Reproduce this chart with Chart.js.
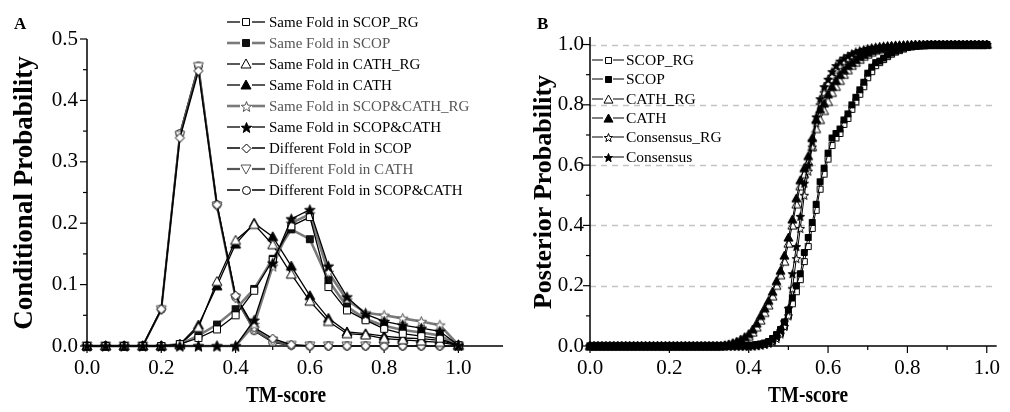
<!DOCTYPE html>
<html><head><meta charset="utf-8">
<script src="https://cdn.jsdelivr.net/npm/chart.js@4.4.0/dist/chart.umd.min.js"></script>
<style>
html,body{margin:0;padding:0;background:#fff;width:1010px;height:412px;overflow:hidden;}
canvas{position:absolute;top:0;}
#cA{left:0;} #cB{left:520px;}
</style></head><body>
<canvas id="cA" width="520" height="412"></canvas>
<canvas id="cB" width="490" height="412"></canvas>
<script>
// ---------- Panel A data ----------
const tmA = [0,0.05,0.1,0.15,0.2,0.25,0.3,0.35,0.4,0.45,0.5,0.55,0.6,0.65,0.7,0.75,0.8,0.85,0.9,0.95,1.0];
const sameScopRG   = [0,0,0,0,0,0.003,0.013,0.027,0.05,0.09,0.14,0.195,0.21,0.096,0.058,0.042,0.028,0.02,0.016,0.012,0.001];
const sameScop     = [0,0,0,0,0,0.003,0.017,0.035,0.06,0.093,0.142,0.19,0.174,0.107,0.064,0.044,0.033,0.026,0.022,0.017,0.001];
const sameCathRG   = [0,0,0,0,0,0.002,0.03,0.105,0.172,0.198,0.165,0.117,0.073,0.04,0.02,0.018,0.012,0.01,0.008,0.006,0.001];
const sameCath     = [0,0,0,0,0,0.003,0.034,0.098,0.166,0.2,0.178,0.13,0.082,0.045,0.023,0.02,0.016,0.013,0.012,0.009,0.001];
const sameBothRG   = [0,0,0,0,0,0,0,0,0,0.035,0.13,0.2,0.215,0.12,0.075,0.054,0.05,0.045,0.04,0.034,0.002];
const sameBoth     = [0,0,0,0,0,0,0,0,0,0.042,0.135,0.207,0.222,0.13,0.08,0.052,0.04,0.034,0.029,0.024,0.001];
const diffScop     = [0,0,0,0,0.06,0.339,0.448,0.23,0.082,0.03,0.012,0.002,0,0,0,0,0,0,0,0,0];
const diffCath     = [0,0,0,0,0.059,0.343,0.455,0.228,0.078,0.026,0.008,0.001,0,0,0,0,0,0,0,0,0];
const diffBoth     = [0,0,0,0,0.06,0.346,0.456,0.23,0.08,0.025,0.006,0.001,0,0,0,0,0,0,0,0,0];
const labelsA = ['Same Fold in SCOP_RG','Same Fold in SCOP','Same Fold in CATH_RG','Same Fold in CATH',
  'Same Fold in SCOP&CATH_RG','Same Fold in SCOP&CATH','Different Fold in SCOP','Different Fold in CATH','Different Fold in SCOP&CATH'];

// ---------- Panel B data ----------
const tmB = [0,0.01,0.02,0.03,0.04,0.05,0.06,0.07,0.08,0.09,
 0.1,0.11,0.12,0.13,0.14,0.15,0.16,0.17,0.18,0.19,
 0.2,0.21,0.22,0.23,0.24,0.25,0.26,0.27,0.28,0.29,
 0.3,0.31,0.32,0.33,0.34,0.35,0.36,0.37,0.38,0.39,
 0.4,0.41,0.42,0.43,0.44,0.45,0.46,0.47,0.48,0.49,
 0.5,0.51,0.52,0.53,0.54,0.55,0.56,0.57,0.58,0.59,
 0.6,0.61,0.62,0.63,0.64,0.65,0.66,0.67,0.68,0.69,
 0.7,0.71,0.72,0.73,0.74,0.75,0.76,0.77,0.78,0.79,
 0.8,0.81,0.82,0.83,0.84,0.85,0.86,0.87,0.88,0.89,
 0.9,0.91,0.92,0.93,0.94,0.95,0.96,0.97,0.98,0.99,1.0];
const postScopRG = [0,0,0,0,0,0,0,0,0,0, 0,0,0,0,0,0,0,0,0,0, 0,0,0,0,0,0,0,0,0,0,
 0,0,0,0,0,0,0.001,0.001,0.001,0.001,
 0.002,0.002,0.003,0.005,0.006,0.01,0.017,0.028,0.042,0.065,
 0.1,0.14,0.18,0.22,0.28,0.33,0.39,0.45,0.52,0.57,
 0.62,0.665,0.69,0.705,0.735,0.755,0.785,0.81,0.835,0.86,
 0.89,0.91,0.93,0.94,0.95,0.96,0.968,0.975,0.98,0.985,
 0.99,0.992,0.994,0.996,0.997,0.998,0.999,0.999,1,1,
 1,1,1,1,1,1,1,1,1,1,1];
const postScop = [0,0,0,0,0,0,0,0,0,0, 0,0,0,0,0,0,0,0,0,0, 0,0,0,0,0,0,0,0,0,0,
 0,0,0,0,0,0.001,0.001,0.001,0.001,0.002,
 0.002,0.003,0.005,0.007,0.01,0.015,0.025,0.038,0.055,0.08,
 0.12,0.16,0.2,0.24,0.31,0.36,0.41,0.47,0.545,0.59,
 0.64,0.69,0.705,0.72,0.75,0.77,0.8,0.825,0.85,0.875,
 0.905,0.925,0.94,0.945,0.955,0.965,0.972,0.978,0.984,0.988,
 0.992,0.994,0.996,0.997,0.998,0.999,0.999,0.999,1,1,
 1,1,1,1,1,1,1,1,1,1,1];
const postCathRG = [0,0,0,0,0,0,0,0,0,0, 0,0,0,0,0,0,0,0,0,0, 0,0,0,0,0,0,0,0,0,0,
 0,0,0,0,0.002,0.004,0.007,0.011,0.016,0.023,
 0.032,0.045,0.062,0.085,0.11,0.135,0.165,0.2,0.235,0.28,
 0.34,0.4,0.47,0.53,0.57,0.61,0.66,0.72,0.75,0.78,
 0.81,0.84,0.86,0.88,0.9,0.915,0.93,0.94,0.95,0.96,
 0.967,0.974,0.98,0.984,0.987,0.99,0.992,0.994,0.995,0.996,
 0.997,0.998,0.998,0.999,0.999,1,1,1,1,1,
 1,1,1,1,1,1,1,1,1,1,1];
const postCath = [0,0,0,0,0,0,0,0,0,0, 0,0,0,0,0,0,0,0,0,0, 0,0,0,0,0,0,0,0,0,0,
 0,0,0,0,0.003,0.006,0.01,0.015,0.022,0.03,
 0.04,0.055,0.075,0.1,0.125,0.15,0.18,0.215,0.25,0.3,
 0.36,0.42,0.49,0.55,0.59,0.63,0.69,0.75,0.785,0.805,
 0.835,0.86,0.88,0.9,0.915,0.93,0.94,0.95,0.96,0.967,
 0.974,0.98,0.984,0.988,0.99,0.992,0.994,0.995,0.996,0.997,
 0.998,0.998,0.999,0.999,0.999,1,1,1,1,1,
 1,1,1,1,1,1,1,1,1,1,1];
const postConsRG = [0,0,0,0,0,0,0,0,0,0, 0,0,0,0,0,0,0,0,0,0, 0,0,0,0,0,0,0,0,0,0,
 0,0,0,0,0,0,0,0,0,0,
 0,0,0.001,0.003,0.005,0.009,0.015,0.025,0.04,0.065,
 0.1,0.19,0.29,0.39,0.5,0.58,0.66,0.74,0.8,0.84,
 0.87,0.895,0.915,0.93,0.943,0.953,0.962,0.97,0.976,0.98,
 0.984,0.987,0.99,0.992,0.994,0.995,0.996,0.997,0.998,0.998,
 0.999,0.999,1,1,1,1,1,1,1,1,
 1,1,1,1,1,1,1,1,1,1,1];
const postCons = [0,0,0,0,0,0,0,0,0,0, 0,0,0,0,0,0,0,0,0,0, 0,0,0,0,0,0,0,0,0,0,
 0,0,0,0,0,0,0,0,0,0,
 0,0.001,0.002,0.004,0.007,0.012,0.02,0.032,0.05,0.08,
 0.125,0.24,0.33,0.43,0.54,0.6,0.68,0.76,0.82,0.86,
 0.885,0.91,0.93,0.945,0.955,0.963,0.97,0.976,0.98,0.984,
 0.987,0.99,0.992,0.994,0.995,0.996,0.997,0.998,0.998,0.999,
 0.999,1,1,1,1,1,1,1,1,1,
 1,1,1,1,1,1,1,1,1,1,1];
const labelsB = ['SCOP_RG','SCOP','CATH_RG','CATH','Consensus_RG','Consensus'];

// ---------- marker images ----------
function marker(shape, size, fill, stroke, lw) {
  const pad = 2, S = Math.ceil(size + pad * 2);
  const c = document.createElement('canvas');
  c.width = S; c.height = S;
  const g = c.getContext('2d');
  const cx = S / 2, cy = S / 2, r = size / 2;
  g.beginPath();
  if (shape === 'square') {
    g.rect(cx - r + 0.5, cy - r + 0.5, 2 * r - 1, 2 * r - 1);
  } else if (shape === 'tri') {
    g.moveTo(cx, cy - r); g.lineTo(cx + r, cy + r * 0.8); g.lineTo(cx - r, cy + r * 0.8);
  } else if (shape === 'dtri') {
    g.moveTo(cx, cy + r); g.lineTo(cx + r, cy - r * 0.8); g.lineTo(cx - r, cy - r * 0.8);
  } else if (shape === 'diamond') {
    g.moveTo(cx, cy - r); g.lineTo(cx + r, cy); g.lineTo(cx, cy + r); g.lineTo(cx - r, cy);
  } else if (shape === 'circle') {
    g.arc(cx, cy, r - 0.5, 0, Math.PI * 2);
  } else if (shape === 'star') {
    for (let k = 0; k < 10; k++) {
      const rr = k % 2 === 0 ? r : r * 0.42;
      const a = -Math.PI / 2 + k * Math.PI / 5;
      const px = cx + rr * Math.cos(a), py = cy + 0.5 + rr * Math.sin(a);
      if (k === 0) g.moveTo(px, py); else g.lineTo(px, py);
    }
  }
  g.closePath();
  g.fillStyle = fill; g.fill();
  g.lineWidth = lw; g.strokeStyle = stroke; g.stroke();
  return c;
}

const GRAY = '#7a7a7a';
const stylesA = [
  {m: marker('square', 8, '#fff', '#000', 1), c: '#000', w: 1.3, o: 1},
  {m: marker('square', 8, '#111', '#111', 1), c: GRAY, w: 2.6, o: 1},
  {m: marker('tri', 10, '#fff', '#000', 1), c: '#000', w: 1.3, o: 1},
  {m: marker('tri', 10, '#000', '#000', 1), c: '#000', w: 1.3, o: 1},
  {m: marker('star', 11, '#fff', '#555', 1), c: GRAY, w: 2.6, o: 1},
  {m: marker('star', 11, '#000', '#000', 1), c: '#000', w: 1.3, o: 0},
  {m: marker('diamond', 9, '#fff', '#000', 1), c: '#000', w: 1.5, o: 1},
  {m: marker('dtri', 10, '#fff', '#555', 1), c: '#555', w: 2.2, o: 1},
  {m: marker('circle', 9, '#fff', '#000', 1), c: '#000', w: 1.5, o: 1}
];
const textColA = ['#000', '#555', '#000', '#000', '#555', '#000', '#000', '#555', '#000'];
const stylesB = [
  {m: marker('square', 7, '#fff', '#000', 1), c: '#000', w: 1, o: 2},
  {m: marker('square', 7, '#000', '#000', 1), c: '#000', w: 1, o: 0},
  {m: marker('tri', 9, '#fff', '#000', 1), c: '#000', w: 1, o: 2},
  {m: marker('tri', 9, '#000', '#000', 1), c: '#000', w: 1, o: 0},
  {m: marker('star', 9, '#fff', '#000', 1), c: '#000', w: 1, o: 1},
  {m: marker('star', 9, '#000', '#000', 1), c: '#000', w: 1, o: 0}
];

const SERIF = "'Liberation Serif','Times New Roman',serif";

// ---------- decoration plugin: axes, ticks, grid, legend, titles ----------
const deco = {
  id: 'deco',
  beforeDatasetsDraw(chart) {
    const o = chart.options.plugins.deco;
    const ctx = chart.ctx, xs = chart.scales.x, ys = chart.scales.y, a = chart.chartArea;
    ctx.save();
    if (o.grid) {
      ctx.strokeStyle = '#c4c4c4'; ctx.lineWidth = 1.5; ctx.setLineDash([6, 5]);
      o.grid.forEach(v => {
        const y = Math.round(ys.getPixelForValue(v)) + 0.5;
        ctx.beginPath(); ctx.moveTo(a.left, y); ctx.lineTo(a.right, y); ctx.stroke();
      });
      ctx.setLineDash([]);
    }
    ctx.strokeStyle = '#000'; ctx.lineWidth = 1.5;
    const bx = a.left, by = a.bottom;
    ctx.beginPath(); ctx.moveTo(bx, a.top); ctx.lineTo(bx, by); ctx.lineTo(a.right, by); ctx.stroke();
    ctx.lineWidth = 1.2;
    const tick = (vals, len, axis) => vals.forEach(v => {
      ctx.beginPath();
      if (axis === 'x') { const x = xs.getPixelForValue(v); ctx.moveTo(x, by); ctx.lineTo(x, by + len); }
      else { const y = ys.getPixelForValue(v); ctx.moveTo(bx, y); ctx.lineTo(bx - len, y); }
      ctx.stroke();
    });
    tick(o.xMajor, 7, 'x'); tick(o.xMinor, 4, 'x');
    tick(o.yMajor, 7, 'y'); tick(o.yMinor, 4, 'y');
    ctx.restore();
  },
  afterDatasetsDraw(chart) {
    const o = chart.options.plugins.deco;
    const ctx = chart.ctx;
    ctx.save();
    const L = o.legend;
    chart.data.datasets.forEach((ds, i) => {
      const y = L.ys[i];
      const st = o.styles[i];
      ctx.strokeStyle = st.c; ctx.lineWidth = st.w;
      ctx.beginPath(); ctx.moveTo(L.l1[0], y); ctx.lineTo(L.l1[1], y); ctx.stroke();
      ctx.beginPath(); ctx.moveTo(L.l2[0], y); ctx.lineTo(L.l2[1], y); ctx.stroke();
      ctx.drawImage(st.m, Math.round(L.mx - st.m.width / 2), Math.round(y - st.m.height / 2));
      ctx.fillStyle = (o.textCols && o.textCols[i]) || '#000';
      ctx.font = L.font; ctx.textAlign = 'left'; ctx.textBaseline = 'middle';
      ctx.fillText(ds.label, L.tx, y + 1);
    });
    ctx.fillStyle = '#000';
    ctx.font = 'bold ' + o.yTitle.size + 'px ' + SERIF; ctx.textAlign = 'center'; ctx.textBaseline = 'middle';
    ctx.save(); ctx.translate(o.yTitle.x, o.yTitle.y); ctx.rotate(-Math.PI / 2);
    ctx.fillText(o.yTitle.text, 0, 0); ctx.restore();
    ctx.font = 'bold 23px ' + SERIF;
    ctx.save(); ctx.translate(o.xTitle.x, o.xTitle.y); ctx.scale(0.84, 1);
    ctx.fillText('TM-score', 0, 0); ctx.restore();
    ctx.font = 'bold 17px ' + SERIF; ctx.textAlign = 'left';
    ctx.fillText(o.panel.text, o.panel.x, o.panel.y);
    ctx.restore();
  }
};

function lineDatasets(labels, xs, series, styles, radius) {
  return series.map((s, i) => ({
    label: labels[i],
    data: xs.map((x, j) => ({x: x, y: s[j]})),
    borderColor: styles[i].c,
    borderWidth: styles[i].w,
    pointStyle: styles[i].m,
    pointRadius: radius,
    pointHoverRadius: radius,
    fill: false,
    tension: 0,
    clip: 10,
    order: styles[i].o !== undefined ? styles[i].o : 0
  }));
}

const fmt = v => (Math.round(v * 10) / 10).toFixed(1);
const tickFont = {family: SERIF, size: 21};
const noGrid = {display: false, drawTicks: false, tickLength: 0};

// ---------- Chart A ----------
new Chart(document.getElementById('cA'), {
  type: 'line',
  data: {datasets: lineDatasets(labelsA, tmA,
    [sameScopRG, sameScop, sameCathRG, sameCath, sameBothRG, sameBoth, diffScop, diffCath, diffBoth], stylesA, 4)},
  options: {
    responsive: false, animation: false, events: [],
    layout: {padding: {left: 0, top: 39, right: 17, bottom: 0}},
    scales: {
      x: {type: 'linear', min: 0, max: 1.12,
        grid: noGrid, border: {display: false},
        ticks: {stepSize: 0.2, includeBounds: false, callback: fmt, font: tickFont, color: '#000', padding: 10, maxRotation: 0},
        afterFit(s) { s.height = 66; }},
      y: {type: 'linear', min: 0, max: 0.5,
        grid: noGrid, border: {display: false},
        ticks: {stepSize: 0.1, callback: fmt, font: tickFont, color: '#000', padding: 9},
        afterFit(s) { s.width = 87; }}
    },
    plugins: {
      legend: {display: false}, tooltip: {enabled: false},
      deco: {
        xMajor: [0, 0.2, 0.4, 0.6, 0.8, 1.0], xMinor: [0.1, 0.3, 0.5, 0.7, 0.9],
        yMajor: [0, 0.1, 0.2, 0.3, 0.4, 0.5], yMinor: [0.05, 0.15, 0.25, 0.35, 0.45],
        styles: stylesA, textCols: textColA,
        legend: {ys: [22, 43, 64, 85, 106, 127, 148, 169, 190], l1: [227, 240], mx: 246, l2: [252, 265], tx: 269, font: '15px ' + SERIF},
        yTitle: {text: 'Conditional Probability', x: 25, y: 193, size: 27},
        xTitle: {x: 286, y: 396},
        panel: {text: 'A', x: 14, y: 25}
      }
    }
  },
  plugins: [deco]
});

// ---------- Chart B ----------
new Chart(document.getElementById('cB'), {
  type: 'line',
  data: {datasets: lineDatasets(labelsB, tmB,
    [postScopRG, postScop, postCathRG, postCath, postConsRG, postCons], stylesB, 3.5)},
  options: {
    responsive: false, animation: false, events: [],
    layout: {padding: {left: 0, top: 37, right: 4, bottom: 0}},
    scales: {
      x: {type: 'linear', min: 0, max: 1.025,
        grid: noGrid, border: {display: false},
        ticks: {stepSize: 0.2, includeBounds: false, callback: fmt, font: tickFont, color: '#000', padding: 10, maxRotation: 0},
        afterFit(s) { s.height = 66; }},
      y: {type: 'linear', min: 0, max: 1.025,
        grid: noGrid, border: {display: false},
        ticks: {stepSize: 0.2, includeBounds: false, callback: fmt, font: tickFont, color: '#000', padding: 6},
        afterFit(s) { s.width = 70; }}
    },
    plugins: {
      legend: {display: false}, tooltip: {enabled: false},
      deco: {
        grid: [0.2, 0.4, 0.6, 0.8, 1.0],
        xMajor: [0, 0.2, 0.4, 0.6, 0.8, 1.0], xMinor: [0.1, 0.3, 0.5, 0.7, 0.9],
        yMajor: [0, 0.2, 0.4, 0.6, 0.8, 1.0], yMinor: [0.1, 0.3, 0.5, 0.7, 0.9],
        styles: stylesB,
        legend: {ys: [60, 79, 99, 118, 137, 157], l1: [72, 83], mx: 88, l2: [93, 104], tx: 106, font: '15.5px ' + SERIF},
        yTitle: {text: 'Posterior Probability', x: 24, y: 192, size: 26},
        xTitle: {x: 288, y: 396},
        panel: {text: 'B', x: 17, y: 25}
      }
    }
  },
  plugins: [deco]
});
</script>
</body></html>
